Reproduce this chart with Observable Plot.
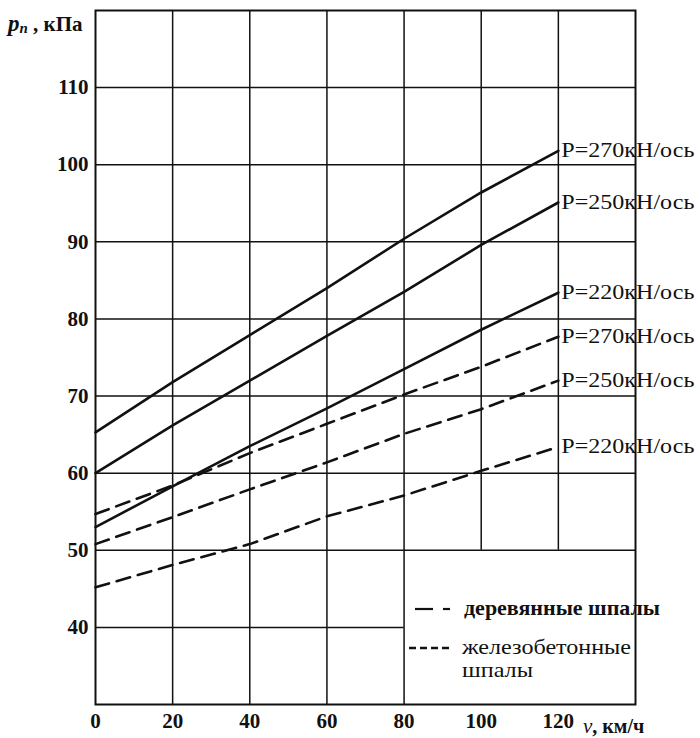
<!DOCTYPE html>
<html><head><meta charset="utf-8">
<script src="https://cdn.jsdelivr.net/npm/d3@7"></script>
<script src="https://cdn.jsdelivr.net/npm/@observablehq/plot@0.6"></script>
<style>
body{margin:0;background:#fff;}
#wrap{position:relative;width:700px;height:738px;font-family:'Liberation Serif','DejaVu Serif',serif;}
#wrap svg{display:block;}
#wrap text{font-family:'Liberation Serif','DejaVu Serif',serif;}
#overlay{position:absolute;left:0;top:0;pointer-events:none;}
</style></head><body><div id="wrap"></div>
<script>
// ---- data ----
const speeds = [0, 20, 40, 60, 80, 100, 120];
const woodP270 = [65.3, 71.8, 77.9, 84.0, 90.4, 96.4, 101.8];
const woodP250 = [60.0, 66.2, 72.0, 77.8, 83.5, 89.6, 95.1];
const woodP220 = [53.0, 58.3, 63.5, 68.4, 73.5, 78.6, 83.4];
const concP270 = [54.7, 58.4, 62.6, 66.4, 70.2, 73.8, 77.7];
const concP250 = [50.8, 54.3, 57.9, 61.4, 65.1, 68.3, 72.0];
const concP220 = [45.2, 48.1, 50.8, 54.4, 57.1, 60.3, 63.4];
const seriesNames = ["P=270кН/ось", "P=250кН/ось", "P=220кН/ось"];
const xTicks = [0, 20, 40, 60, 80, 100, 120];
const yTicks = [40, 50, 60, 70, 80, 90, 100, 110];
const xGrid = [20, 40, 60, 80, 100, 120];
const yGrid = [40, 50, 60, 70, 80, 90, 100, 110];
const legendWood = "деревянные шпалы";
const legendConc = ["железобетонные", "шпалы"];
const yLabelMain = "p", yLabelSub = "п", yLabelUnit = " , кПа";
const xLabelMain = "v", xLabelUnit = ", км/ч";

// legend zone (grid is cut there)
const legendZone = {x1: 80, y2: 50};

const series = [
  {name: seriesNames[0], type: "wood", values: woodP270},
  {name: seriesNames[1], type: "wood", values: woodP250},
  {name: seriesNames[2], type: "wood", values: woodP220},
  {name: seriesNames[0], type: "conc", values: concP270},
  {name: seriesNames[1], type: "conc", values: concP250},
  {name: seriesNames[2], type: "conc", values: concP220}
];
const rows = series.flatMap((s, k) => s.values.map((v, i) => ({x: speeds[i], y: v, key: k, type: s.type})));
const ends = series.map(s => ({x: speeds[speeds.length - 1], y: s.values[s.values.length - 1], name: s.name}));

const vGrid = xGrid.map(v => ({x: v, y1: v > legendZone.x1 ? legendZone.y2 : 30, y2: 120}));
const hGrid = yGrid.map(v => ({y: v, x1: 0, x2: v < legendZone.y2 ? legendZone.x1 : 140}));

const serif = "'Liberation Serif', 'DejaVu Serif', serif";
const ink = "#111";

const chart = Plot.plot({
  width: 700, height: 738,
  marginLeft: 95, marginRight: 65, marginTop: 10, marginBottom: 34,
  x: {domain: [0, 140]},
  y: {domain: [30, 120]},
  style: {fontFamily: serif, background: "#fff"},
  marks: [
    Plot.ruleX(vGrid, {x: "x", y1: "y1", y2: "y2", stroke: ink, strokeWidth: 1.5}),
    Plot.ruleY(hGrid, {y: "y", x1: "x1", x2: "x2", stroke: ink, strokeWidth: 1.5}),
    Plot.frame({stroke: ink, strokeWidth: 2}),
    Plot.line(rows.filter(d => d.type === "wood"), {x: "x", y: "y", z: "key", stroke: ink, strokeWidth: 2.6}),
    Plot.line(rows.filter(d => d.type === "conc"), {x: "x", y: "y", z: "key", stroke: ink, strokeWidth: 2.6, strokeDasharray: "14,8"}),
    Plot.text(ends, {x: "x", y: "y", text: "name", dx: 3, textAnchor: "start", fontSize: 20, fontFamily: serif, fill: ink}),
    Plot.axisX({ticks: xTicks, tickSize: 0, tickPadding: 9, tickFormat: d => String(d), fontSize: 21, fontWeight: "bold", fontFamily: serif, fill: ink, label: null}),
    Plot.axisY({ticks: yTicks, tickSize: 0, tickPadding: 7, tickFormat: d => String(d), fontSize: 21, fontWeight: "bold", fontFamily: serif, fill: ink, label: null})
  ]
});
document.getElementById("wrap").appendChild(chart);

// stretch series labels to the scan's wide lettering
d3.select(chart).selectAll("text").filter(function() { return this.textContent.indexOf("кН") >= 0; })
  .attr("textLength", 133).attr("lengthAdjust", "spacingAndGlyphs");

// overlay: axis titles and legend
const ov = d3.select("#wrap").append("svg").attr("id", "overlay").attr("width", 700).attr("height", 738)
  .style("font-family", serif);

const yl = ov.append("text").attr("x", 8).attr("y", 31).attr("fill", ink);
yl.append("tspan").attr("font-style", "italic").attr("font-weight", "bold").attr("font-size", 23).text(yLabelMain);
yl.append("tspan").attr("font-style", "italic").attr("font-weight", "bold").attr("font-size", 15).attr("dy", 2).text(yLabelSub);
yl.append("tspan").attr("font-weight", "bold").attr("font-size", 21).attr("dy", -2).text(yLabelUnit);

const xl = ov.append("text").attr("x", 583).attr("y", 733).attr("fill", ink);
xl.append("tspan").attr("font-style", "italic").attr("font-size", 21).text(xLabelMain);
xl.append("tspan").attr("font-weight", "bold").attr("font-size", 20).text(xLabelUnit);

// legend samples
ov.append("line").attr("x1", 415).attr("x2", 433).attr("y1", 609).attr("y2", 609).attr("stroke", ink).attr("stroke-width", 2.2);
ov.append("line").attr("x1", 443).attr("x2", 450).attr("y1", 609).attr("y2", 609).attr("stroke", ink).attr("stroke-width", 2.2);
ov.append("line").attr("x1", 409).attr("x2", 453).attr("y1", 648).attr("y2", 648).attr("stroke", ink).attr("stroke-width", 2.6).attr("stroke-dasharray", "7,4");

ov.append("text").attr("x", 464).attr("y", 615).attr("font-size", 21).attr("font-weight", "bold").attr("fill", ink)
  .attr("textLength", 196).attr("lengthAdjust", "spacingAndGlyphs").text(legendWood);
ov.append("text").attr("x", 462).attr("y", 654).attr("font-size", 21).attr("fill", ink)
  .attr("textLength", 169).attr("lengthAdjust", "spacingAndGlyphs").text(legendConc[0]);
ov.append("text").attr("x", 462).attr("y", 677).attr("font-size", 21).attr("fill", ink)
  .attr("textLength", 71).attr("lengthAdjust", "spacingAndGlyphs").text(legendConc[1]);
</script></body></html>
